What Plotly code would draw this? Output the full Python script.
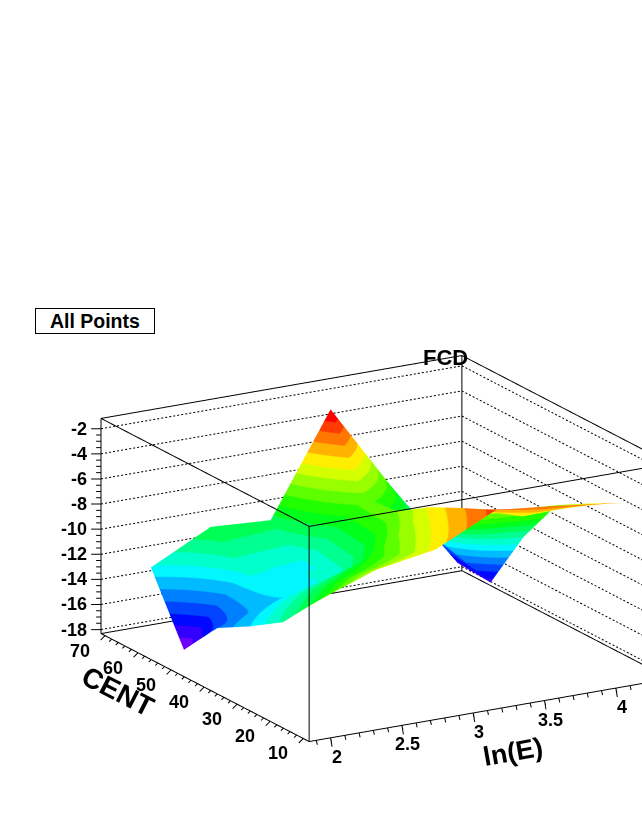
import math
import colorsys
import plotly.graph_objects as go

# ---- data ----
ln_e = [1.94, 2.36, 2.78, 3.20, 3.62, 4.09]
cent = [10, 20, 30, 40, 50, 60]
fcd = [
    [-7.6, -5.9, -5.1, -2.8, -3.3, -4.0],
    [-10.6, -8.1, -6.8, -4.0, -5.5, -5.4],
    [-12.3, -10.3, -8.5, -5.3, -6.5, -6.9],
    [-13.8, -12.4, -11.2, -7.0, -9.5, -10.8],
    [-16.9, -11.4, -11.8, -7.2, -10.5, -15.8],
    [-11.7, -9.3, -9.6, -1.6, -8.5, -15.6],
]
x_major = [2, 2.5, 3, 3.5, 4]
x_labels = ["2", "2.5", "3", "3.5", "4"]
y_major = [10, 20, 30, 40, 50, 60, 70]
y_labels = ["10", "20", "30", "40", "50", "60", "70"]
z_major = [-18, -16, -14, -12, -10, -8, -6, -4, -2]
z_labels = ["-18", "-16", "-14", "-12", "-10", "-8", "-6", "-4", "-2"]
x_minor = [1.9 + 0.1 * i for i in range(25)]
y_minor = [10 + 2 * i for i in range(31)]
z_minor = [-18 + 0.5 * i for i in range(33)]

XR = (1.85, 4.38)
YR = (8.2, 71.2)
ZR = (-18.32, -1.18)
C_MIN, C_MAX = -16.9, -1.6

# ---- view ----
AR = (1.005, 1.0, 0.5436)
PAD = 1.25
alpha = math.radians(59.9)
theta = math.radians(17.5)
K = 418.0
DIST = 2.37
OFF_X, OFF_Y = 65.0, 134.5

R = (math.sin(alpha), -math.cos(alpha), 0.0)
U = (math.cos(alpha) * math.sin(theta), math.sin(alpha) * math.sin(theta), math.cos(theta))
D = (-math.cos(alpha) * math.cos(theta), -math.sin(alpha) * math.cos(theta), math.sin(theta))
center = [-(OFF_X / K) * R[i] + (OFF_Y / K) * U[i] for i in range(3)]
eye = [center[i] + DIST * D[i] for i in range(3)]

spans = (XR[1] - XR[0], YR[1] - YR[0], ZR[1] - ZR[0])


def screen_offset(sx, sy):
    """data-space offset which appears as (sx, sy) pixels on the screen (sy up)."""
    return [(sx / K * R[i] + sy / K * U[i]) * spans[i] / AR[i] for i in range(3)]


def pad_range(r):
    c, h = (r[0] + r[1]) / 2, (r[1] - r[0]) / 2 * PAD
    return [c - h, c + h]


def seg_trace(segs, width=2):
    xs, ys, zs = [], [], []
    for a, b in segs:
        xs += [a[0], b[0], None]
        ys += [a[1], b[1], None]
        zs += [a[2], b[2], None]
    return go.Scatter3d(x=xs, y=ys, z=zs, mode="lines", hoverinfo="skip", showlegend=False,
                        line=dict(color="black", width=width))


def ticks(vals, base, vec):
    out = []
    for v in vals:
        p = base(v)
        out.append((p, [p[i] + vec[i] for i in range(3)]))
    return out


def dotted(a, b, count):
    """split a grid line into short dots"""
    out = []
    for i in range(count):
        t0 = i / count
        t1 = (i + 0.5) / count
        out.append(([a[k] + (b[k] - a[k]) * t0 for k in range(3)],
                    [a[k] + (b[k] - a[k]) * t1 for k in range(3)]))
    return out


x0, x1 = XR
y0, y1 = YR
z0, z1 = ZR

box = []
for z in (z0, z1):
    box += [((x0, y0, z), (x1, y0, z)), ((x1, y0, z), (x1, y1, z)),
            ((x1, y1, z), (x0, y1, z)), ((x0, y1, z), (x0, y0, z))]
for x, y in ((x0, y0), (x1, y0), (x1, y1), (x0, y1)):
    box.append(((x, y, z0), (x, y, z1)))

grid = []
for z in z_major:
    grid += dotted((x0, y1, z), (x1, y1, z), 90)
    grid += dotted((x1, y1, z), (x1, y0, z), 58)

xb = lambda v: (v, y0, z0)
yb = lambda v: (x0, v, z0)
zb = lambda v: (x0, y1, v)
tick_segs = (
    ticks(x_major, xb, screen_offset(1.5, -9)) + ticks(x_minor, xb, screen_offset(1, -4.5))
    + ticks(y_major, yb, screen_offset(-4.5, -4.5)) + ticks(y_minor, yb, screen_offset(-2.5, -2.5))
    + ticks(z_major, zb, screen_offset(-10, 0)) + ticks(z_minor, zb, screen_offset(-5, 0))
)

n = 20
scale = []
for k in range(n):
    h = 266 * (1 - k / (n - 1)) / 360
    r, g, b = colorsys.hsv_to_rgb(h, 1, 1)
    c = f"rgb({round(r*255)},{round(g*255)},{round(b*255)})"
    scale += [[k / n, c], [(k + 1) / n, c]]

fig = go.Figure()
fig.add_trace(go.Surface(
    x=ln_e, y=cent, z=fcd, colorscale=scale, cmin=C_MIN, cmax=C_MAX, showscale=False, hoverinfo="skip",
    lighting=dict(ambient=1, diffuse=0, specular=0, fresnel=0, roughness=1),
))
fig.add_trace(seg_trace(box))
fig.add_trace(seg_trace(grid))
fig.add_trace(seg_trace(tick_segs))

tick_font = dict(family="Liberation Sans", size=18, color="black", weight=700)
ann3d = []
for v, t in zip(x_major, x_labels):
    ann3d.append(dict(x=v, y=y0, z=z0, text=t, showarrow=False, font=tick_font, xshift=6, yshift=-19))
for v, t in zip(y_major, y_labels):
    ann3d.append(dict(x=x0, y=v, z=z0, text=t, showarrow=False, font=tick_font, xshift=-25, yshift=-15))
for v, t in zip(z_major, z_labels):
    ann3d.append(dict(x=x0, y=y1, z=v, text=t, showarrow=False, font=tick_font, xanchor="right", xshift=-12))

hidden = dict(visible=False, showspikes=False)
W, H = 642, 830


def paper(px, py):
    return dict(xref="paper", yref="paper", x=px / W, y=1 - py / H, showarrow=False,
                xanchor="center", yanchor="middle")


fig.update_layout(
    width=W, height=H, autosize=False, margin=dict(l=0, r=0, t=0, b=0),
    paper_bgcolor="white", showlegend=False,
    scene=dict(
        domain=dict(x=[0, 1], y=[0, 1]),
        xaxis=dict(range=pad_range(XR), **hidden),
        yaxis=dict(range=pad_range(YR), **hidden),
        zaxis=dict(range=pad_range(ZR), **hidden),
        aspectmode="manual",
        aspectratio=dict(x=AR[0] * PAD, y=AR[1] * PAD, z=AR[2] * PAD),
        camera=dict(
            projection=dict(type="orthographic"),
            up=dict(x=0, y=0, z=1),
            center=dict(x=center[0], y=center[1], z=center[2]),
            eye=dict(x=eye[0], y=eye[1], z=eye[2]),
        ),
        annotations=ann3d,
    ),
    annotations=[
        dict(text="All Points", font=dict(family="Liberation Sans", size=19.5, color="black", weight=700),
             bordercolor="black", borderwidth=1, bgcolor="white", width=116, height=22, **paper(95, 321)),
        dict(text="FCD", font=dict(family="Liberation Sans", size=22, color="black", weight=700), **paper(445, 357)),
        dict(text="CENT", textangle=27, font=dict(family="Liberation Sans", size=28, color="black", weight=700), **paper(118, 691)),
        dict(text="ln(E)", textangle=-10, font=dict(family="Liberation Sans", size=27, color="black", weight=700), **paper(513, 752)),
    ],
)

fig.write_html("out.html", config=dict(displayModeBar=False),
               post_script="document.body.style.margin='0';document.body.style.overflow='hidden';")
